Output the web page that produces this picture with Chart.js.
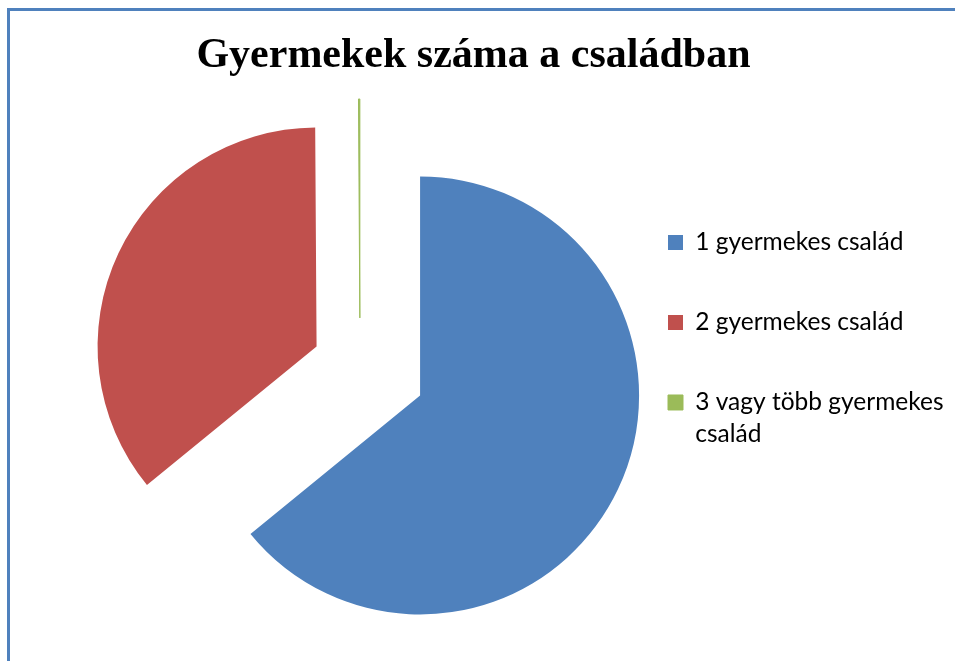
<!DOCTYPE html>
<html lang="hu">
<head>
<meta charset="utf-8">
<title>Gyermekek száma a családban</title>
<script src="https://cdn.jsdelivr.net/npm/chart.js@4/dist/chart.umd.min.js"></script>
<style>
	html, body { margin: 0; padding: 0; background: #fff; }
	#wrap { position: relative; width: 955px; height: 661px; overflow: hidden; }
	#frame {
		position: absolute; left: 7px; top: 8px; right: -10px; bottom: -10px;
		border-top: 3px solid #4F81BD; border-left: 3px solid #4F81BD;
		pointer-events: none;
	}
	#pie { position: absolute; left: 0; top: 0; }
</style>
</head>
<body>
<div id="wrap">
	<canvas id="pie" width="955" height="661"></canvas>
	<div id="frame"></div>
</div>
<script>
// chart data
var categories = ['1 gyermekes család', '2 gyermekes család', ['3 vagy több gyermekes', 'család']];
var shares = [64.1, 35.8, 0.1];
var colors = ['#4F81BD', '#C0504D', '#9BBB59'];

// how far each slice is pulled out of the pie (px)
var explode = [66.5, 48, 49];

// pull slices out along their middle angle, like an exploded excel pie
var explodePlugin = {
	id: 'explodeSlices',
	afterDatasetUpdate: function(chart, args) {
		var meta = chart.getDatasetMeta(args.index);
		meta.data.forEach(function(arc, i) {
			var mid = (arc.startAngle + arc.endAngle) / 2;
			arc.x += Math.cos(mid) * explode[i];
			arc.y += Math.sin(mid) * explode[i];
		});
	}
};

// legend is kept narrow for the layout, but its text may run to the right edge
var legendRoomPlugin = {
	id: 'legendRoom',
	afterLayout: function(chart) {
		if (chart.legend) {
			chart.legend.right = chart.width;
			chart.legend.width = chart.legend.right - chart.legend.left;
		}
	}
};

var pieChart = new Chart(document.getElementById('pie').getContext('2d'), {
	type: 'pie',
	data: {
		labels: categories,
		datasets: [{
			data: shares,
			backgroundColor: colors,
			borderColor: colors,
			borderWidth: [0, 0, 1]
		}]
	},
	plugins: [explodePlugin, legendRoomPlugin],
	options: {
		responsive: false,
		animation: false,
		events: [],
		radius: 219,
		layout: {
			padding: { left: 107.5, right: 115.5, top: 31, bottom: 8.5 }
		},
		plugins: {
			tooltip: { enabled: false },
			title: {
				display: true,
				text: 'Gyermekek száma a családban',
				color: '#000',
				padding: 0,
				font: { family: '"Liberation Serif", "Times New Roman", serif', size: 42, weight: 'bold' }
			},
			legend: {
				position: 'right',
				maxWidth: 227,
				labels: {
					color: '#000',
					boxWidth: 15,
					boxHeight: 15,
					padding: 55.5,
					font: { family: 'Lato, "Open Sans", sans-serif', size: 24.5, lineHeight: 1.286 }
				}
			}
		}
	}
});
</script>
</body>
</html>
